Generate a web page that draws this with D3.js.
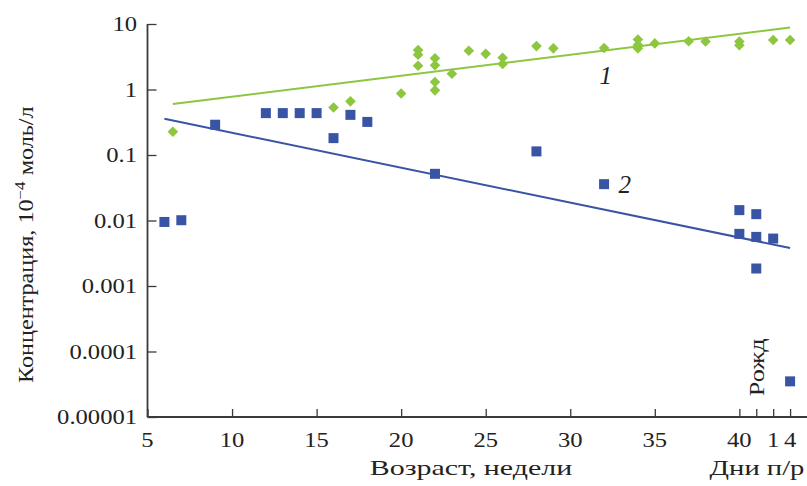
<!DOCTYPE html>
<html><head><meta charset="utf-8">
<script src="https://cdn.jsdelivr.net/npm/d3@7"></script>
<style>html,body{margin:0;padding:0;background:#fff;}</style>
</head><body>
<svg id="c" width="807" height="486"></svg>
<script>
// ---- data ----
const s1X = [6.5, 16, 17, 20, 21, 21, 21, 22, 22, 22, 22, 23, 24, 25, 26, 26, 28, 29, 32, 34, 34, 34, 35, 37, 38, 40, 40, 42, 43];
const s1Y = [0.226, 0.53, 0.66, 0.87, 4.0, 3.4, 2.3, 3.0, 2.35, 1.3, 0.97, 1.74, 3.9, 3.5, 3.05, 2.45, 4.6, 4.25, 4.3, 5.8, 4.8, 4.25, 5.05, 5.45, 5.4, 5.4, 4.75, 5.7, 5.7];
const s2X = [6, 7, 9, 12, 13, 14, 15, 16, 17, 18, 22, 28, 32, 40, 40, 41, 41, 41, 42, 43];
const s2Y = [0.0095, 0.0101, 0.29, 0.436, 0.436, 0.436, 0.436, 0.181, 0.41, 0.32, 0.0516, 0.1135, 0.0359, 0.0144, 0.00625, 0.0125, 0.00562, 0.00185, 0.0053, 0.000035];
const trend1X = [6.5, 43], trend1Y = [0.6, 8.85];
const trend2X = [6, 43], trend2Y = [0.357, 0.0038];
const xTickValues = [5, 10, 15, 20, 25, 30, 35, 40, 41, 42, 43];
const xTickLabels = ["5", "10", "15", "20", "25", "30", "35", "40", "", "1", "4"];
const yTickValues = [10, 1, 0.1, 0.01, 0.001, 0.0001, 0.00001];
const yTickLabels = ["10", "1", "0.1", "0.01", "0.001", "0.0001", "0.00001"];
const seriesLabels = ["1", "2"];
const labelX = [32.1, 32.85], labelY = [1.21, 0.0262];
const birthLabel = "Рожд", birthX = 41.45, birthY = 5.75e-5;
const xTitle = "Возраст, недели", xTitle2 = "Дни п/р";

// ---- layout ----
const svg = d3.select("#c");
const green = "#8DC63F", blue = "#3A54A5", axisCol = "#3a3a3a";
const FONT = "'Liberation Serif','Times New Roman',serif";
const x = d3.scaleLinear().domain([5, 44]).range([147.5, 807]);
const y = d3.scaleLog().domain([1e-5, 10]).range([417, 24]);

function stext(g, tx, ty, str, size, sx, anchor, rot) {
  return g.append("text")
    .attr("transform", `translate(${tx},${ty})` + (rot ? ` rotate(${rot})` : "") + ` scale(${sx},1)`)
    .attr("text-anchor", anchor)
    .attr("font-family", FONT).attr("font-size", size).attr("fill", "#222")
    .text(str);
}

// axes
const xAxis = d3.axisBottom(x).tickValues(xTickValues).tickSize(-8).tickFormat("");
const gx = svg.append("g").attr("transform", "translate(0,417)").call(xAxis);
gx.select(".domain").remove();
gx.selectAll(".tick line").attr("stroke", axisCol).attr("stroke-width", 1.3);
const yAxis = d3.axisLeft(y).tickValues(yTickValues).tickSize(-9).tickFormat("");
const gy = svg.append("g").attr("transform", "translate(147.5,0)").call(yAxis);
gy.select(".domain").remove();
gy.selectAll(".tick line").attr("stroke", axisCol).attr("stroke-width", 1.3);
svg.append("line").attr("x1", x(5)).attr("x2", 807).attr("y1", y(1e-5)).attr("y2", y(1e-5)).attr("stroke", axisCol).attr("stroke-width", 1.8);
svg.append("line").attr("x1", x(5)).attr("x2", x(5)).attr("y1", y(10)).attr("y2", y(1e-5)).attr("stroke", axisCol).attr("stroke-width", 1.8);

// tick labels
const lab = svg.append("g");
xTickValues.forEach((v, i) => { if (xTickLabels[i]) stext(lab, x(v), 447, xTickLabels[i], 20.5, 1.2, "middle"); });
yTickValues.forEach((v, i) => stext(lab, 137, y(v) + 7, yTickLabels[i], 20.5, 1.2, "end"));

// titles
stext(lab, 471, 475, xTitle, 22, 1.36, "middle");
stext(lab, 757, 475, xTitle2, 22, 1.3, "middle");
const yt = lab.append("text")
  .attr("transform", `translate(33,383) rotate(-90) scale(1.21,1)`)
  .attr("text-anchor", "start").attr("font-family", FONT).attr("font-size", 20).attr("fill", "#222");
yt.append("tspan").text("Концентрация, 10");
yt.append("tspan").attr("font-size", 14).attr("dy", -8).text("−4");
yt.append("tspan").attr("dy", 8).text(" моль/л");
stext(lab, x(birthX), y(birthY), birthLabel, 21, 1.25, "middle", -90);

// trend lines
const line = d3.line().x(d => x(d[0])).y(d => y(d[1]));
svg.append("path").attr("d", line(d3.zip(trend1X, trend1Y))).attr("fill", "none").attr("stroke", green).attr("stroke-width", 2);
svg.append("path").attr("d", line(d3.zip(trend2X, trend2Y))).attr("fill", "none").attr("stroke", blue).attr("stroke-width", 2);

// markers
svg.append("g").selectAll("path").data(d3.zip(s1X, s1Y)).join("path")
  .attr("d", d3.symbol(d3.symbolDiamond2, 72)())
  .attr("transform", d => `translate(${x(d[0])},${y(d[1])})`)
  .attr("fill", green);
svg.append("g").selectAll("rect").data(d3.zip(s2X, s2Y)).join("rect")
  .attr("x", d => x(d[0]) - 5).attr("y", d => y(d[1]) - 5)
  .attr("width", 10).attr("height", 10).attr("fill", blue);

// series labels
seriesLabels.forEach((t, i) => {
  lab.append("text").attr("x", x(labelX[i])).attr("y", y(labelY[i]))
    .attr("text-anchor", i === 0 ? "middle" : "start")
    .attr("font-family", FONT).attr("font-style", "italic").attr("font-size", 25).attr("fill", "#222").text(t);
});
</script>
</body></html>
